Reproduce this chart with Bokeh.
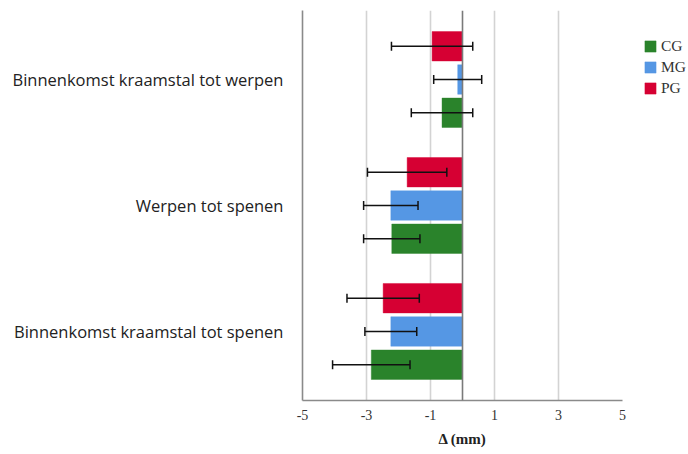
from bokeh.plotting import figure
from bokeh.models import (ColumnDataSource, Range1d, FixedTicker, Span, Whisker,
                          TeeHead, Legend, LegendItem, Title)
from bokeh.embed import file_html
from bokeh.resources import INLINE

# Categories, top to bottom
categories = ["Binnenkomst kraamstal tot werpen", "Werpen tot spenen",
              "Binnenkomst kraamstal tot spenen"]
series = ["CG", "MG", "PG"]

# Mean change (mm) and standard deviation per group
cg_mean = [-0.64, -2.21, -2.85]
cg_sd = [0.96, 0.88, 1.21]
mg_mean = [-0.15, -2.24, -2.24]
mg_sd = [0.75, 0.85, 0.81]
pg_mean = [-0.95, -1.73, -2.48]
pg_sd = [1.27, 1.24, 1.13]

x_ticks = [-5, -3, -1, 1, 3, 5]
x_tick_labels = ["-5", "-3", "-1", "1", "3", "5"]
x_label = "Δ (mm)"

colors = {"CG": "#2a832b", "MG": "#5597e4", "PG": "#d60033"}
means = {"CG": cg_mean, "MG": mg_mean, "PG": pg_mean}
sds = {"CG": cg_sd, "MG": mg_sd, "PG": pg_sd}
offsets = {"CG": -0.264, "MG": 0.0, "PG": 0.264}
bar_h = 0.234

n = len(categories)
group_pos = [n - 1 - i for i in range(n)]  # first category at the top

# the frame runs to the right edge so the legend can sit beside the axis span
left_px, width_px, axis_px = 302, 688, 320
x_min, x_max = -5, 5
x_end = x_min + (width_px - left_px) * (x_max - x_min) / axis_px

p = figure(width=width_px, height=454, output_backend="svg", toolbar_location=None,
           x_range=Range1d(x_min, x_end), y_range=Range1d(-0.548, n - 1 + 0.548),
           min_border_left=left_px, min_border_right=0, min_border_top=10,
           min_border_bottom=54)
p.outline_line_color = None
p.background_fill_color = "white"
p.border_fill_color = "white"

# grid: light verticals, darker zero line
p.ygrid.grid_line_color = None
p.xgrid.ticker = FixedTicker(ticks=[-3, -1, 1, 3])
p.xgrid.grid_line_color = "#d3d3d3"
p.xgrid.grid_line_width = 1.6
p.add_layout(Span(location=0, dimension="height", line_color="#7a7a7a",
                  line_width=1.6, level="overlay"))

renderers = {}
for s in series:
    ys = [g + offsets[s] for g in group_pos]
    m = means[s]
    sd = sds[s]
    src = ColumnDataSource(dict(
        y=ys, mean=m,
        lo=[a - b for a, b in zip(m, sd)],
        hi=[a + b for a, b in zip(m, sd)],
    ))
    renderers[s] = p.hbar(y="y", left=0, right="mean", height=bar_h, source=src,
                          fill_color=colors[s], line_color=colors[s], line_alpha=0.4)
    w = Whisker(source=src, base="y", lower="lo", upper="hi", dimension="width",
                line_color="#111111", line_width=1.5, level="overlay",
                upper_head=TeeHead(size=9, line_color="#111111", line_width=1.5),
                lower_head=TeeHead(size=9, line_color="#111111", line_width=1.5))
    p.add_layout(w)

# x axis (line limited to -5..5)
p.xaxis.bounds = (x_min, x_max)
p.xaxis.ticker = FixedTicker(ticks=x_ticks)
p.xaxis.major_label_overrides = {t: l for t, l in zip(x_ticks, x_tick_labels)}
p.xaxis.major_label_text_font = "Liberation Serif"
p.xaxis.major_label_text_font_size = "14px"
p.xaxis.major_label_text_color = "#333333"
p.xaxis.major_label_standoff = 9
p.xaxis.major_tick_out = 0
p.xaxis.major_tick_in = 0
p.xaxis.minor_tick_out = 0
p.xaxis.minor_tick_in = 0
p.xaxis.axis_line_color = "#8a8a8a"
p.xaxis.axis_line_width = 1.6

# axis title centred under the -5..5 span
p.add_layout(Title(text=x_label, align="left", offset=136, standoff=12,
                   text_font="Liberation Serif", text_font_style="bold",
                   text_font_size="15px", text_color="#222222"), "below")

# y axis with category names
p.yaxis.ticker = FixedTicker(ticks=group_pos)
p.yaxis.major_label_overrides = {g: c for g, c in zip(group_pos, categories)}
p.yaxis.major_label_text_font = "Open Sans"
p.yaxis.major_label_text_font_size = "16.5px"
p.yaxis.major_label_text_color = "#222222"
p.yaxis.major_label_standoff = 19
p.yaxis.major_tick_out = 0
p.yaxis.major_tick_in = 0
p.yaxis.minor_tick_out = 0
p.yaxis.minor_tick_in = 0
p.yaxis.axis_line_color = "#8a8a8a"
p.yaxis.axis_line_width = 1.6

legend = Legend(items=[LegendItem(label=s, renderers=[renderers[s]]) for s in series],
                location=(341, 303), orientation="vertical",
                glyph_width=14, glyph_height=14, label_standoff=4, spacing=3,
                padding=0, margin=0, border_line_color=None,
                background_fill_alpha=0,
                label_text_font="Liberation Serif", label_text_font_size="15.5px",
                label_text_color="#333333")
p.add_layout(legend)

open("out.html", "w").write(file_html(p, INLINE))
